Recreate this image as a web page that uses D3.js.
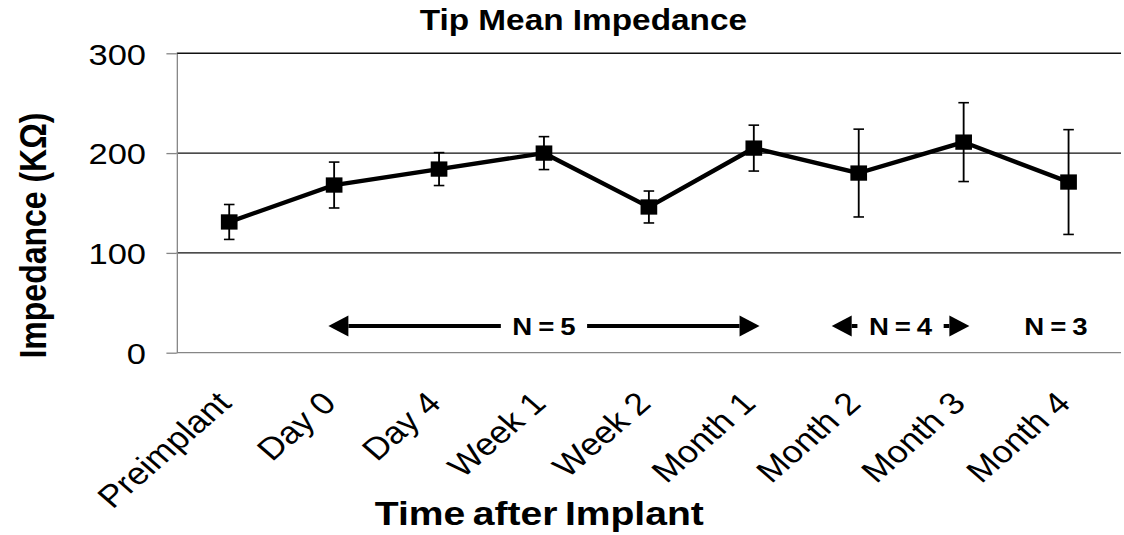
<!DOCTYPE html>
<html>
<head>
<meta charset="utf-8">
<script src="https://cdn.jsdelivr.net/npm/d3@7"></script>
<style>
  html, body { margin: 0; padding: 0; background: #fff; }
  svg { display: block; font-family: "Liberation Sans", Arial, sans-serif; }
</style>
</head>
<body>
<svg id="chart" width="1124" height="535"></svg>
<script>
// Time points after implantation
const categories = ["Preimplant", "Day 0", "Day 4", "Week 1", "Week 2", "Month 1", "Month 2", "Month 3", "Month 4"];
// Mean tip impedance (kΩ) and its spread for each time point
const meanImpedance = [131, 168, 184, 200, 146, 205, 180, 211, 171];
const impedanceSD = [17.5, 23, 16.5, 16.5, 16, 23, 44, 39.5, 52.5];
// Y axis ticks
const yTicks = [0, 100, 200, 300];
// Sample-size notes under the curve
const sampleNotes = [
  { text: "N = 5", from: "Day 0", to: "Month 1" },
  { text: "N = 4", from: "Month 2", to: "Month 3" },
  { text: "N = 3", at: "Month 4" }
];

// The drawing is laid out on a narrower canvas and stretched to the window width
const SX = 1.15;
const W = 1124 / SX, H = 535;
const svg = d3.select("#chart")
  .attr("viewBox", `0 0 ${W} ${H}`)
  .attr("preserveAspectRatio", "none");

const plot = { left: 153.7, right: 974.8, top: 53.3, bottom: 352.7 };

const x = d3.scalePoint().domain(categories).range([plot.left, plot.right]).padding(0.5);
const y = d3.scaleLinear().domain([0, 300]).range([plot.bottom, plot.top]);

// Title
svg.append("text")
  .attr("x", (plot.left + plot.right) / 2 - 57)
  .attr("y", 30)
  .attr("text-anchor", "middle")
  .attr("font-size", 29)
  .attr("font-weight", "bold")
  .text("Tip Mean Impedance");

// Horizontal gridlines
svg.append("g").selectAll("line")
  .data(yTicks.filter(t => t > 0))
  .join("line")
  .attr("x1", plot.left).attr("x2", plot.right)
  .attr("y1", d => y(d)).attr("y2", d => y(d))
  .attr("stroke", "#111")
  .attr("stroke-width", 1.4)
  .attr("vector-effect", "non-scaling-stroke");

// Y axis
const yAxis = svg.append("g")
  .attr("transform", `translate(${plot.left},0)`)
  .call(d3.axisLeft(y).tickValues(yTicks).tickSizeInner(9).tickSizeOuter(0).tickPadding(17.7));
yAxis.select(".domain").attr("stroke", "#868686").attr("stroke-width", 1.3).attr("vector-effect", "non-scaling-stroke");
yAxis.selectAll(".tick line").attr("stroke", "#868686").attr("stroke-width", 1.3).attr("vector-effect", "non-scaling-stroke");
yAxis.selectAll(".tick text")
  .attr("font-size", 30)
  .attr("font-family", "'Liberation Sans', Arial, sans-serif")
  .attr("fill", "#000")
  .attr("dy", "0.36em");

// X axis baseline
svg.append("line")
  .attr("x1", plot.left).attr("x2", plot.right)
  .attr("y1", y(0)).attr("y2", y(0))
  .attr("stroke", "#868686")
  .attr("stroke-width", 1.3)
  .attr("vector-effect", "non-scaling-stroke");

// Rotated category labels
svg.append("g").selectAll("text")
  .data(categories)
  .join("text")
  .attr("transform", d => `translate(${x(d) + 3.2},405) rotate(-45)`)
  .attr("text-anchor", "end")
  .attr("font-size", 31)
  .text(d => d);

// Axis titles
svg.append("text")
  .attr("transform", `translate(40,235.5) rotate(-90)`)
  .attr("text-anchor", "middle")
  .attr("font-size", 32)
  .attr("font-weight", "bold")
  .text("Impedance (KΩ)");

svg.append("text")
  .attr("x", 469)
  .attr("y", 525)
  .attr("text-anchor", "middle")
  .attr("font-size", 34)
  .attr("font-weight", "bold")
  .attr("word-spacing", -3)
  .text("Time after Implant");

// Error bars
const capHalf = 4.6;
const errG = svg.append("g").attr("stroke", "#000").attr("stroke-width", 1.6);
categories.forEach((c, i) => {
  const hi = y(meanImpedance[i] + impedanceSD[i]);
  const lo = y(meanImpedance[i] - impedanceSD[i]);
  errG.append("line").attr("x1", x(c)).attr("x2", x(c)).attr("y1", hi).attr("y2", lo);
  errG.append("line").attr("x1", x(c) - capHalf).attr("x2", x(c) + capHalf).attr("y1", hi).attr("y2", hi);
  errG.append("line").attr("x1", x(c) - capHalf).attr("x2", x(c) + capHalf).attr("y1", lo).attr("y2", lo);
});

// Mean line
const line = d3.line().x((d, i) => x(categories[i])).y(d => y(d));
svg.append("path")
  .datum(meanImpedance)
  .attr("fill", "none")
  .attr("stroke", "#000")
  .attr("stroke-width", 4.3)
  .attr("stroke-linejoin", "round")
  .attr("d", line);

// Square markers
const mw = 14.5, mh = 15.3;
svg.append("g").selectAll("rect")
  .data(meanImpedance)
  .join("rect")
  .attr("x", (d, i) => x(categories[i]) - mw / 2)
  .attr("y", d => y(d) - mh / 2)
  .attr("width", mw)
  .attr("height", mh)
  .attr("fill", "#000");

// Sample-size annotations with double-headed arrows
const noteY = 326, gap = 37.5, headLen = 17.4, headHalf = 10.5;
const noteG = svg.append("g");
function arrow(x0, x1) {
  // shaft from x0 toward tip x1, head at x1
  const dir = Math.sign(x1 - x0);
  const base = x1 - dir * headLen;
  noteG.append("line")
    .attr("x1", x0).attr("x2", base)
    .attr("y1", noteY).attr("y2", noteY)
    .attr("stroke", "#000").attr("stroke-width", 4);
  noteG.append("path")
    .attr("d", `M${x1},${noteY} L${base},${noteY - headHalf} L${base},${noteY + headHalf} Z`)
    .attr("fill", "#000");
}
sampleNotes.forEach(n => {
  let cx;
  if (n.at) {
    cx = x(n.at) - 11;
  } else {
    const tipL = x(n.from) - (n.from === "Day 0" ? 5 : 23.5);
    const tipR = x(n.to) + 5;
    cx = (tipL + tipR) / 2;
    arrow(cx - gap, tipL);
    arrow(cx + gap, tipR);
  }
  noteG.append("text")
    .attr("x", cx)
    .attr("y", noteY + 9)
    .attr("text-anchor", "middle")
    .attr("font-size", 24)
    .attr("font-weight", "bold")
    .attr("word-spacing", -1.5)
    .text(n.text);
});
</script>
</body>
</html>
